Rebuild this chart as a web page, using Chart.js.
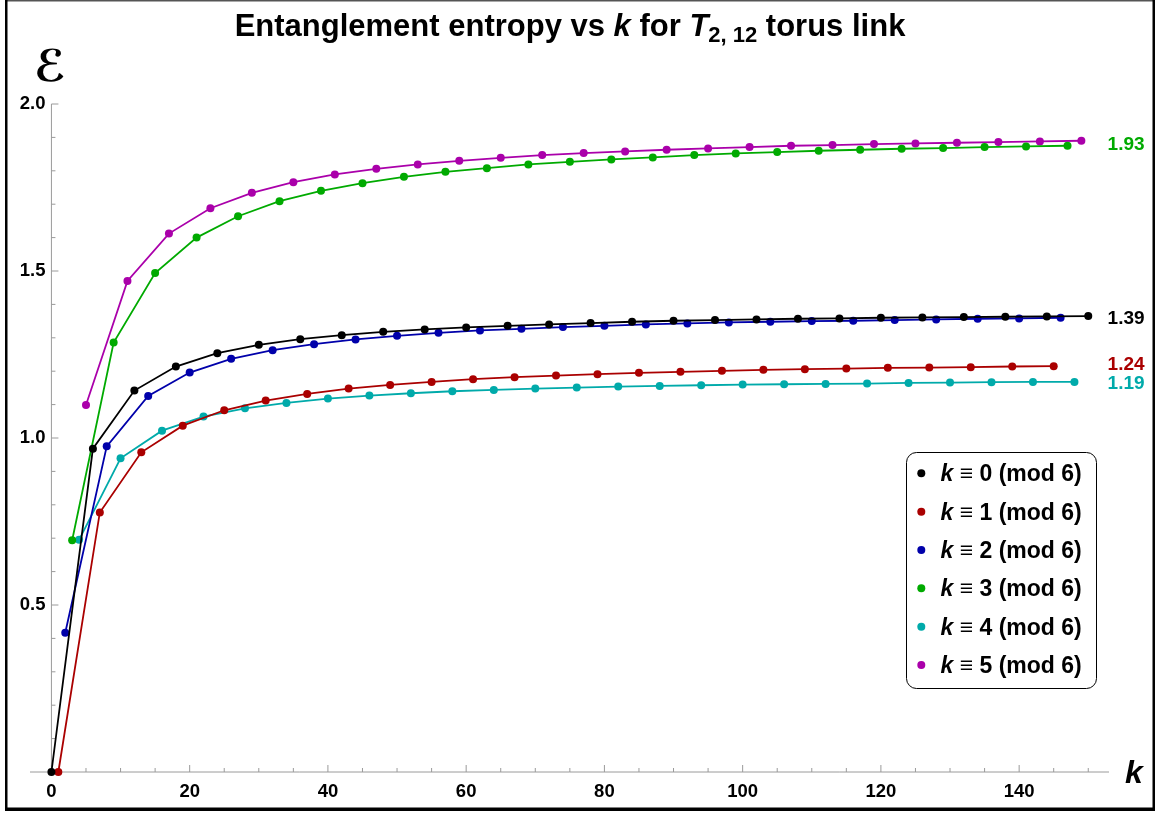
<!DOCTYPE html>
<html>
<head>
<meta charset="utf-8">
<title>Entanglement entropy vs k</title>
<script src="https://cdn.jsdelivr.net/npm/chart.js@4.4.1/dist/chart.umd.min.js"></script>
<style>
    html, body { margin: 0; padding: 0; background: #fff; }
    #wrap { width: 1156px; height: 813px; }
</style>
</head>
<body>
<div id="wrap"><canvas id="entropyChart" width="1156" height="813"></canvas></div>
<script>
// k values of each residue class (mod 6)
const k0 = [0, 6, 12, 18, 24, 30, 36, 42, 48, 54, 60, 66, 72, 78, 84, 90, 96, 102, 108, 114, 120, 126, 132, 138, 144, 150];
const k1 = [1, 7, 13, 19, 25, 31, 37, 43, 49, 55, 61, 67, 73, 79, 85, 91, 97, 103, 109, 115, 121, 127, 133, 139, 145];
const k2 = [2, 8, 14, 20, 26, 32, 38, 44, 50, 56, 62, 68, 74, 80, 86, 92, 98, 104, 110, 116, 122, 128, 134, 140, 146];
const k3 = [3, 9, 15, 21, 27, 33, 39, 45, 51, 57, 63, 69, 75, 81, 87, 93, 99, 105, 111, 117, 123, 129, 135, 141, 147];
const k4 = [4, 10, 16, 22, 28, 34, 40, 46, 52, 58, 64, 70, 76, 82, 88, 94, 100, 106, 112, 118, 124, 130, 136, 142, 148];
const k5 = [5, 11, 17, 23, 29, 35, 41, 47, 53, 59, 65, 71, 77, 83, 89, 95, 101, 107, 113, 119, 125, 131, 137, 143, 149];

// entropy values
const e0 = [0, 0.968, 1.142, 1.214, 1.254, 1.279, 1.296, 1.308, 1.318, 1.325, 1.331, 1.336, 1.340, 1.344, 1.348, 1.351, 1.353, 1.355, 1.357, 1.358, 1.360, 1.361, 1.362, 1.363, 1.364, 1.365];
const e1 = [0, 0.777, 0.957, 1.037, 1.083, 1.112, 1.132, 1.148, 1.159, 1.168, 1.176, 1.182, 1.187, 1.191, 1.195, 1.198, 1.201, 1.204, 1.206, 1.208, 1.210, 1.211, 1.212, 1.214, 1.215];
const e2 = [0.417, 0.975, 1.126, 1.196, 1.237, 1.263, 1.281, 1.295, 1.306, 1.315, 1.322, 1.327, 1.332, 1.336, 1.340, 1.343, 1.346, 1.348, 1.350, 1.351, 1.353, 1.355, 1.357, 1.358, 1.360];
const e3 = [0.694, 1.286, 1.494, 1.600, 1.664, 1.709, 1.740, 1.763, 1.782, 1.797, 1.808, 1.819, 1.827, 1.834, 1.840, 1.847, 1.852, 1.856, 1.860, 1.863, 1.866, 1.868, 1.871, 1.873, 1.875];
const e4 = [0.695, 0.939, 1.022, 1.064, 1.089, 1.105, 1.118, 1.127, 1.134, 1.140, 1.144, 1.148, 1.151, 1.154, 1.156, 1.158, 1.160, 1.161, 1.162, 1.163, 1.165, 1.166, 1.167, 1.168, 1.168];
const e5 = [1.099, 1.470, 1.612, 1.688, 1.734, 1.766, 1.789, 1.806, 1.819, 1.830, 1.839, 1.847, 1.853, 1.858, 1.863, 1.867, 1.871, 1.875, 1.877, 1.880, 1.882, 1.884, 1.886, 1.888, 1.890];

const residues = ['0', '1', '2', '3', '4', '5'];
const seriesColors = ['#000000', '#aa0000', '#0000aa', '#00aa00', '#00aaaa', '#aa00aa'];

// ticks
const xMajorTicks = [0, 20, 40, 60, 80, 100, 120, 140];
const xMinorTicks = [5, 10, 15, 25, 30, 35, 45, 50, 55, 65, 70, 75, 85, 90, 95, 105, 110, 115, 125, 130, 135, 145, 150];
const yMajorTicks = [0.5, 1.0, 1.5, 2.0];
const yMinorTicks = [0.1, 0.2, 0.3, 0.4, 0.6, 0.7, 0.8, 0.9, 1.1, 1.2, 1.3, 1.4, 1.6, 1.7, 1.8, 1.9];

// limit labels on the right
const endLabels = ['1.93', '1.39', '1.24', '1.19'];
const endLabelY = [1.878, 1.358, 1.218, 1.162];
const endLabelColors = ['#00aa00', '#000000', '#aa0000', '#00aaaa'];

const FONT = '"Liberation Sans", Arial, sans-serif';

const allK = [k0, k1, k2, k3, k4, k5];
const allE = [e0, e1, e2, e3, e4, e5];

const datasets = residues.map((r, i) => ({
    label: 'k ≡ ' + r + ' (mod 6)',
    data: allK[i].map((k, j) => ({x: k, y: allE[i][j]})),
    borderColor: seriesColors[i],
    backgroundColor: seriesColors[i],
    pointBackgroundColor: seriesColors[i],
    pointBorderWidth: 0,
    pointRadius: 4,
    borderWidth: 1.8,
    tension: 0,
    clip: false
}));

// draws text pieces side by side (for italic k and subscripts)
function drawRuns(ctx, runs, x, y, align) {
    let total = 0;
    runs.forEach(r => { ctx.font = r.font; total += ctx.measureText(r.text).width; });
    let cx = align === 'center' ? x - total / 2 : x;
    ctx.textAlign = 'left';
    ctx.textBaseline = 'alphabetic';
    runs.forEach(r => {
        ctx.font = r.font;
        ctx.fillText(r.text, cx, y + (r.dy || 0));
        cx += ctx.measureText(r.text).width;
    });
}

const decorations = {
    id: 'decorations',
    beforeDatasetsDraw(chart) {
        const ctx = chart.ctx;
        const xs = chart.scales.x, ys = chart.scales.y;
        const area = chart.chartArea;
        const x0 = xs.getPixelForValue(0);
        const y0 = ys.getPixelForValue(0);
        ctx.save();
        ctx.strokeStyle = '#9a9a9a';
        ctx.lineWidth = 1;
        ctx.beginPath();
        // axes
        ctx.moveTo(area.left, y0); ctx.lineTo(area.right, y0);
        ctx.moveTo(x0, y0); ctx.lineTo(x0, area.top);
        // tick marks point into the plot
        xMajorTicks.forEach(v => { const p = xs.getPixelForValue(v); ctx.moveTo(p, y0); ctx.lineTo(p, y0 - 7); });
        xMinorTicks.forEach(v => { const p = xs.getPixelForValue(v); ctx.moveTo(p, y0); ctx.lineTo(p, y0 - 4); });
        yMajorTicks.forEach(v => { const p = ys.getPixelForValue(v); ctx.moveTo(x0, p); ctx.lineTo(x0 + 7, p); });
        yMinorTicks.forEach(v => { const p = ys.getPixelForValue(v); ctx.moveTo(x0, p); ctx.lineTo(x0 + 4, p); });
        ctx.stroke();
        ctx.restore();
    },
    afterDraw(chart) {
        const ctx = chart.ctx;
        const xs = chart.scales.x, ys = chart.scales.y;
        ctx.save();

        // frame
        ctx.fillStyle = '#555';
        ctx.fillRect(5, 0, 1150, 1.5);
        ctx.fillStyle = '#000';
        ctx.fillRect(5, 0, 2.5, 811);
        ctx.fillRect(1152.5, 0, 2.5, 811);
        ctx.fillRect(5, 807.5, 1150, 3.5);

        // title
        ctx.fillStyle = '#000';
        const tb = 'bold 31px ' + FONT, ti = 'italic bold 31px ' + FONT, ts = 'bold 22px ' + FONT;
        drawRuns(ctx, [
            {text: 'Entanglement entropy vs ', font: tb},
            {text: 'k', font: ti},
            {text: ' for ', font: tb},
            {text: 'T', font: ti},
            {text: '2, 12', font: ts, dy: 6},
            {text: ' torus link', font: tb}
        ], 570, 36, 'center');

        // axis names
        ctx.font = 'bold 44px "DejaVu Sans", sans-serif';
        ctx.textAlign = 'center';
        ctx.textBaseline = 'middle';
        ctx.fillText('ℰ', 50, 70);
        ctx.font = 'italic bold 32px ' + FONT;
        ctx.textAlign = 'left';
        ctx.textBaseline = 'alphabetic';
        ctx.fillText('k', 1125, 783);

        // limit values
        ctx.font = 'bold 19px ' + FONT;
        ctx.textBaseline = 'middle';
        endLabels.forEach((t, i) => {
            ctx.fillStyle = endLabelColors[i];
            ctx.fillText(t, xs.getPixelForValue(152.8), ys.getPixelForValue(endLabelY[i]));
        });

        // legend box
        const lx = 906.5, ly = 452.5, lw = 190, lh = 236, rad = 10;
        ctx.beginPath();
        ctx.roundRect(lx, ly, lw, lh, rad);
        ctx.fillStyle = '#fff';
        ctx.fill();
        ctx.strokeStyle = '#000';
        ctx.lineWidth = 1;
        ctx.stroke();
        residues.forEach((r, i) => {
            const cy = 473.3 + i * 38.35;
            ctx.beginPath();
            ctx.arc(921.3, cy, 4, 0, Math.PI * 2);
            ctx.fillStyle = seriesColors[i];
            ctx.fill();
            ctx.fillStyle = '#000';
            drawRuns(ctx, [
                {text: 'k', font: 'italic bold 23px ' + FONT},
                {text: ' ≡ ' + r + ' (mod 6)', font: 'bold 23px ' + FONT}
            ], 940.5, cy + 8, 'left');
        });
        ctx.restore();
    }
};

new Chart(document.getElementById('entropyChart'), {
    type: 'line',
    data: {datasets: datasets},
    options: {
        responsive: false,
        animation: false,
        devicePixelRatio: 1,
        layout: {padding: {left: 30, right: 47, top: 104, bottom: 41}},
        plugins: {legend: {display: false}, tooltip: {enabled: false}},
        scales: {
            x: {
                type: 'linear',
                min: -3.1,
                max: 153,
                position: {y: 0},
                afterBuildTicks: s => { s.ticks = xMajorTicks.map(v => ({value: v})); },
                grid: {display: false, drawTicks: false},
                border: {display: false},
                ticks: {color: '#000', padding: 9, maxRotation: 0, font: {family: FONT, size: 18.5, weight: 'bold'}}
            },
            y: {
                type: 'linear',
                min: 0,
                max: 2,
                // labels sit a little left of the k = 0 axis line
                position: {x: -0.85},
                afterBuildTicks: s => { s.ticks = yMajorTicks.map(v => ({value: v})); },
                grid: {display: false, drawTicks: false},
                border: {display: false},
                ticks: {color: '#000', callback: v => v.toFixed(1), font: {family: FONT, size: 18.5, weight: 'bold'}}
            }
        }
    },
    plugins: [decorations]
});
</script>
</body>
</html>
